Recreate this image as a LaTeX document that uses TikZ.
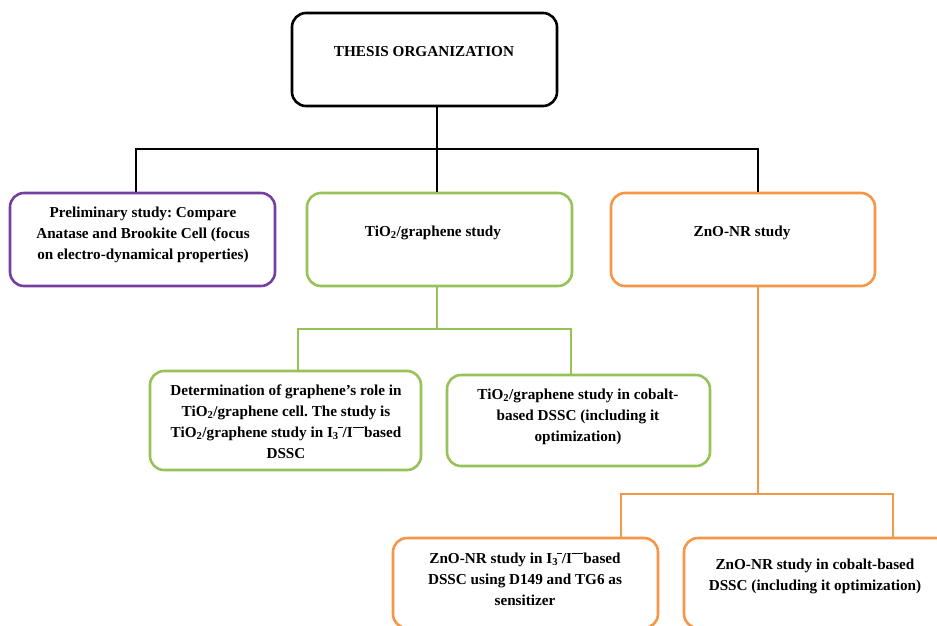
\documentclass[tikz,border=0pt]{standalone}
\usepackage{fontspec}
\setmainfont{Liberation Serif}
\frenchspacing
\definecolor{cpurple}{RGB}{118,62,160}
\definecolor{cgreen}{RGB}{150,194,88}
\definecolor{corange}{RGB}{247,150,70}
\newcommand\Iredox{I\textsubscript{3}\kern-0.05em\raisebox{0.62em}{\rule{0.3em}{0.07em}}/I\raisebox{0.62em}{\rule{0.75em}{0.07em}}}
\tikzset{
  box/.style={draw, line width=2.6pt, rounded corners=14pt, inner sep=0pt, fill=white},
  txt/.style={font=\fontsize{15.2}{21}\selectfont\bfseries, align=center, inner sep=0pt},
  conn/.style={line width=2.4pt}
}
\begin{document}
\begin{tikzpicture}[x=1pt,y=-1pt]
\useasboundingbox (0,0) rectangle (937,625);
% boxes
\node[box, draw=black, minimum width=265pt, minimum height=93pt] (top) at (424.5,59.5) {};
\node[box, draw=cpurple, minimum width=265pt, minimum height=93pt] (prelim) at (142.5,239.5) {};
\node[box, draw=cgreen, minimum width=265pt, minimum height=93pt] (tio) at (439.5,239.5) {};
\node[box, draw=corange, minimum width=264pt, minimum height=93pt] (zno) at (743,239.5) {};
\node[box, draw=cgreen, minimum width=271pt, minimum height=99pt] (g1) at (285.5,420.5) {};
\node[box, draw=cgreen, minimum width=263pt, minimum height=91pt] (g2) at (578.5,420.5) {};
\node[box, draw=corange, minimum width=265pt, minimum height=90pt] (o1) at (525.5,583) {};
\node[box, draw=corange, minimum width=266pt, minimum height=90pt] (o2) at (817,583) {};
% junctions
\coordinate (j0) at (437,149);
\coordinate (jL) at (136,149);
\coordinate (jR) at (758,149);
\coordinate (g0) at (437,329);
\coordinate (gL) at (298,329);
\coordinate (gR) at (571,329);
\coordinate (o0) at (758,494);
\coordinate (oL) at (621,494);
\coordinate (oR) at (893,494);
% connectors
\draw[conn, black] (j0 |- top.south) -- (j0);
\draw[conn, black] (jL |- prelim.north) -- (jL) -- (jR) -- (jR |- zno.north);
\draw[conn, black] (j0) -- (j0 |- tio.north);
\draw[conn, cgreen] (g0 |- tio.south) -- (g0);
\draw[conn, cgreen] (gL |- g1.north) -- (gL) -- (gR) -- (gR |- g2.north);
\draw[conn, corange] (o0 |- zno.south) -- (o0);
\draw[conn, corange] (oL |- o1.north) -- (oL) -- (oR) -- (oR |- o2.north);
% texts
\node[txt] (ttop) at (424,52) {THESIS ORGANIZATION};
\node[txt] (tprelim) at (143,235) {Preliminary study: Compare\\Anatase and Brookite Cell (focus\\on electro-dynamical properties)};
\node[txt] (ttio) at (433,233) {TiO\textsubscript{2}/graphene study};
\node[txt] (tzno) at (742,233) {ZnO-NR study};
\node[txt] (tg1) at (286,422) {Determination of graphene’s role in\\TiO\textsubscript{2}/graphene cell. The study is\\TiO\textsubscript{2}/graphene study in \Iredox based\\DSSC};
\node[txt] (tg2) at (578,417) {TiO\textsubscript{2}/graphene study in cobalt-\\based DSSC (including it\\optimization)};
\node[txt] (to1) at (525,579) {ZnO-NR study in \Iredox based\\DSSC using D149 and TG6 as\\sensitizer};
\node[txt] (to2) at (815,576) {ZnO-NR study in cobalt-based\\DSSC (including it optimization)};
\end{tikzpicture}
\end{document}
